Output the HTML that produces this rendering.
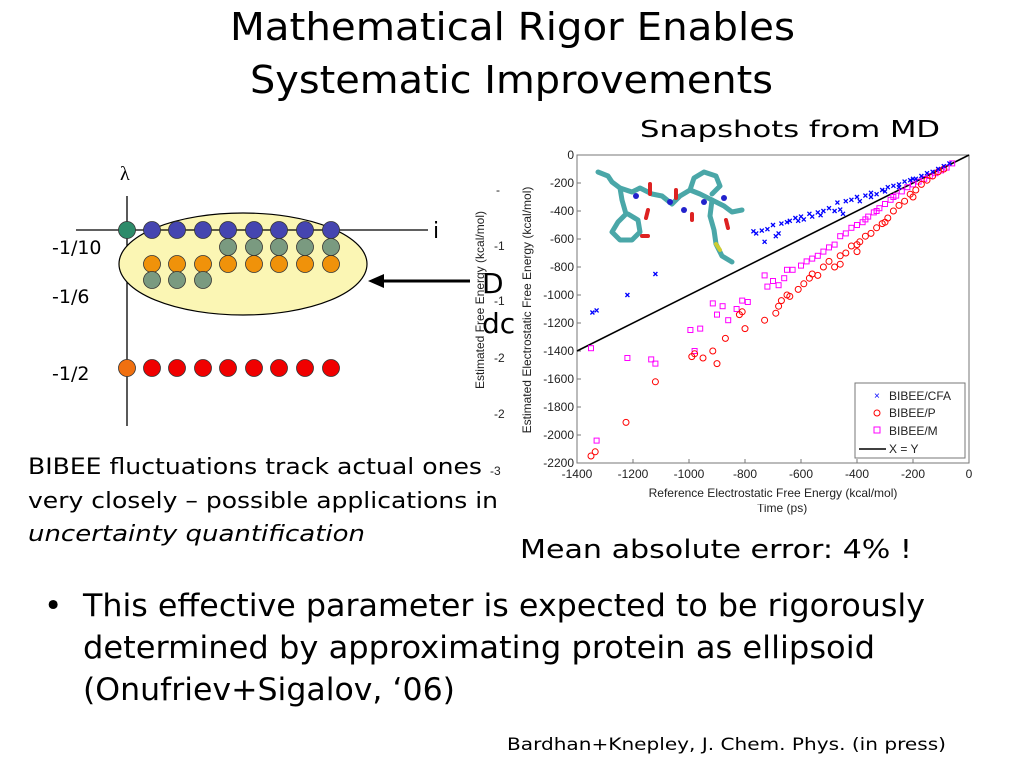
<!DOCTYPE html>
<html><head><meta charset="utf-8"><style>
html,body{margin:0;padding:0;background:#fff;}
svg{display:block;font-family:"Liberation Sans",sans-serif;}
.t{font-family:"DejaVu Sans","Liberation Sans",sans-serif;}
</style></head><body>
<svg id="s" width="1024" height="768" viewBox="0 0 1024 768">
<g class="t" font-size="38" fill="#000">
<text x="230" y="40" textLength="565" lengthAdjust="spacingAndGlyphs">Mathematical Rigor Enables</text>
<text x="250" y="93" textLength="523" lengthAdjust="spacingAndGlyphs">Systematic Improvements</text>
</g>
<text class="t" x="640" y="137" font-size="23" textLength="300" lengthAdjust="spacingAndGlyphs">Snapshots from MD</text>

<g id="diagram">
<text x="120" y="180" font-size="20" font-family="Liberation Serif,serif">λ</text>
<line x1="127" y1="196" x2="127" y2="426" stroke="#000" stroke-width="1.3"/>
<ellipse cx="243" cy="264" rx="124" ry="51" fill="#fbf6b4" stroke="#000" stroke-width="1.2"/>
<line x1="76" y1="230" x2="428" y2="230" stroke="#000" stroke-width="1.3"/>
<text x="433" y="238" font-size="22" class="t">i</text>
<g class="t" font-size="19">
<text x="52" y="254">-1/10</text><text x="52" y="303">-1/6</text><text x="52" y="380">-1/2</text>
</g>
<line x1="470" y1="281" x2="380" y2="281" stroke="#000" stroke-width="3"/>
<polygon points="368,281 384,274 384,288" fill="#000"/>
</g>

<g>
<text transform="translate(484,300) rotate(-90)" font-size="12" text-anchor="middle" fill="#222">Estimated Free Energy (kcal/mol)</text>
<g font-size="12" fill="#222"><text x="496" y="194">-</text><text x="494" y="250">-1</text><text x="494" y="305">-1</text><text x="494" y="362">-2</text><text x="494" y="418">-2</text><text x="490" y="475">-3</text></g>
<text class="t" x="482" y="293" font-size="28">D</text>
<text class="t" x="482" y="333" font-size="28">dc</text>
<text x="757" y="512" font-size="12" fill="#222">Time (ps)</text>
</g>

<g id="chart">
<rect x="520" y="148" width="456" height="356" fill="#fff"/>
<rect x="577" y="155" width="392" height="308" fill="#fff" stroke="#777" stroke-width="1"/>
<text transform="translate(531,310) rotate(-90)" font-size="12" text-anchor="middle" fill="#222">Estimated Electrostatic Free Energy (kcal/mol)</text>
<text x="773" y="497" font-size="12" text-anchor="middle" fill="#222">Reference Electrostatic Free Energy (kcal/mol)</text>
<g id="xt"></g><g id="yt"></g>
<g id="mol" fill="none" stroke-linecap="round" stroke-linejoin="round">
<polyline points="598,172 608,176 612,182 620,188 632,192 640,188 652,194 662,196 672,204 680,196 690,190 700,194 712,200 724,206 732,212 742,210" stroke="#4aa7a8" stroke-width="5"/>
<polyline points="620,188 622,200 626,214 618,222 612,232 620,240 632,240 640,232 638,220 628,214" stroke="#4aa7a8" stroke-width="5"/>
<polyline points="690,190 694,178 704,172 716,176 720,186 712,194" stroke="#4aa7a8" stroke-width="5"/>
<polyline points="712,200 710,216 714,230 716,244 722,256 732,262" stroke="#4aa7a8" stroke-width="5"/>
<line x1="650" y1="184" x2="650" y2="194" stroke="#d22" stroke-width="4"/>
<line x1="676" y1="190" x2="676" y2="198" stroke="#d22" stroke-width="4"/>
<line x1="648" y1="210" x2="646" y2="218" stroke="#d22" stroke-width="4"/>
<line x1="692" y1="214" x2="692" y2="220" stroke="#d22" stroke-width="4"/>
<line x1="726" y1="220" x2="728" y2="228" stroke="#d22" stroke-width="4"/>
<line x1="642" y1="236" x2="648" y2="236" stroke="#d22" stroke-width="4"/>
<circle cx="636" cy="196" r="3" fill="#22c" stroke="none"/><circle cx="670" cy="202" r="3" fill="#22c" stroke="none"/><circle cx="684" cy="210" r="3" fill="#22c" stroke="none"/><circle cx="704" cy="202" r="3" fill="#22c" stroke="none"/><circle cx="724" cy="198" r="3" fill="#22c" stroke="none"/>
<line x1="716" y1="244" x2="720" y2="250" stroke="#cc3" stroke-width="4"/>
</g>
<g id="marks"></g>
<g>
<rect x="855" y="383" width="110" height="75" fill="#fff" stroke="#777" stroke-width="1"/>
<g font-size="12" fill="#222">
<text x="874" y="399" fill="#00f" font-size="10">×</text><text x="889" y="400">BIBEE/CFA</text>
<circle cx="877" cy="413" r="3" fill="none" stroke="#f00"/><text x="889" y="417">BIBEE/P</text>
<rect x="874" y="427" width="6" height="6" fill="none" stroke="#f0f"/><text x="889" y="435">BIBEE/M</text>
<line x1="859" y1="449" x2="886" y2="449" stroke="#000" stroke-width="1.5"/><text x="889" y="453">X = Y</text>
</g></g>
</g>

<g class="t" fill="#000" font-size="22">
<text x="28" y="474" textLength="454" lengthAdjust="spacingAndGlyphs">BIBEE fluctuations track actual ones</text>
<text x="28" y="508" textLength="470" lengthAdjust="spacingAndGlyphs">very closely – possible applications in</text>
<text x="28" y="541" font-style="italic" textLength="337" lengthAdjust="spacingAndGlyphs">uncertainty quantification</text>
</g>
<text class="t" x="520" y="558" font-size="26" textLength="392" lengthAdjust="spacingAndGlyphs">Mean absolute error: 4% !</text>
<g class="t" font-size="31">
<text x="44" y="616">•</text>
<text x="83" y="616" textLength="842" lengthAdjust="spacingAndGlyphs">This effective parameter is expected to be rigorously</text>
<text x="83" y="658" textLength="792" lengthAdjust="spacingAndGlyphs">determined by approximating protein as ellipsoid</text>
<text x="83" y="700" textLength="372" lengthAdjust="spacingAndGlyphs">(Onufriev+Sigalov, ‘06)</text>
</g>
<text class="t" x="507" y="750" font-size="17" textLength="439" lengthAdjust="spacingAndGlyphs">Bardhan+Knepley, J. Chem. Phys. (in press)</text>
</svg>
<script>
const xTicks=[-1400,-1200,-1000,-800,-600,-400,-200,0];
const yTicks=[0,-200,-400,-600,-800,-1000,-1200,-1400,-1600,-1800,-2000,-2200];
const cfaX=[-1345,-1330,-1220,-1120,-770,-760,-740,-730,-720,-700,-690,-680,-670,-650,-640,-620,-600,-590,-570,-560,-540,-530,-520,-500,-480,-470,-460,-450,-440,-420,-400,-390,-370,-350,-350,-330,-310,-300,-290,-270,-250,-250,-230,-210,-200,-190,-170,-150,-130,-110,-90,-70,-610];
const cfaY=[-1125,-1110,-1000,-850,-545,-560,-540,-620,-530,-500,-580,-560,-490,-480,-470,-450,-440,-460,-420,-440,-410,-430,-400,-380,-400,-340,-390,-420,-330,-320,-300,-330,-290,-270,-300,-280,-250,-260,-230,-220,-210,-230,-190,-180,-170,-170,-150,-130,-120,-100,-80,-60,-470];
const pX=[-1350,-1335,-1225,-1120,-990,-980,-950,-915,-900,-870,-820,-800,-810,-730,-680,-690,-670,-650,-640,-610,-590,-570,-560,-540,-520,-500,-480,-460,-460,-440,-420,-400,-390,-370,-350,-330,-310,-290,-270,-250,-230,-210,-190,-170,-150,-130,-110,-90,-400,-300,-200];
const pY=[-2150,-2120,-1910,-1620,-1440,-1420,-1450,-1400,-1490,-1310,-1140,-1240,-1120,-1180,-1080,-1130,-1040,-1000,-1010,-960,-920,-880,-850,-860,-800,-760,-800,-720,-780,-700,-650,-690,-620,-580,-560,-520,-490,-450,-400,-360,-330,-280,-250,-210,-180,-150,-120,-100,-640,-480,-300];
const mX=[-1350,-1330,-1220,-1135,-1120,-980,-995,-960,-915,-900,-880,-860,-810,-830,-790,-730,-720,-700,-680,-660,-650,-630,-600,-580,-560,-540,-520,-500,-480,-460,-440,-420,-400,-380,-360,-340,-320,-300,-280,-260,-240,-220,-200,-180,-160,-140,-120,-100,-80,-60,-370,-330,-270];
const mY=[-1380,-2040,-1450,-1460,-1490,-1400,-1250,-1240,-1060,-1140,-1080,-1180,-1040,-1100,-1050,-860,-940,-900,-930,-880,-820,-820,-790,-760,-740,-720,-690,-660,-640,-580,-560,-520,-500,-480,-440,-410,-380,-350,-320,-290,-260,-230,-210,-190,-170,-150,-130,-110,-90,-60,-460,-400,-300];
const NS='http://www.w3.org/2000/svg';
const X0=577,X1=969,Y0=155,Y1=463;
function sx(v){return X0+(v+1400)/1400*(X1-X0);}
function sy(v){return Y0+(-v)/2200*(Y1-Y0);}
function mk(tag,attrs,parent){const e=document.createElementNS(NS,tag);for(const k in attrs)e.setAttribute(k,attrs[k]);parent.appendChild(e);return e;}
const xt=document.getElementById('xt'),yt=document.getElementById('yt'),marks=document.getElementById('marks');
xTicks.forEach(v=>{
  const t=mk('text',{x:sx(v),y:Y1+15,'font-size':12,'text-anchor':'middle',fill:'#222'},xt);
  t.textContent=v;
  
  
  mk('line',{x1:sx(v),x2:sx(v),y1:Y1,y2:Y1-4,stroke:'#777'},xt);
});
yTicks.forEach(v=>{
  const t=mk('text',{x:X0-3,y:sy(v)+4,'font-size':12,'text-anchor':'end',fill:'#222'},yt);
  t.textContent=v;
  
  
  mk('line',{x1:X0,x2:X0+4,y1:sy(v),y2:sy(v),stroke:'#777'},yt);
});
const ln=mk('line',{x1:sx(-1400),y1:sy(-1400),x2:sx(0),y2:sy(0),stroke:'#000','stroke-width':1.6},marks);


mX.forEach((v,i)=>{
  const r=mk('rect',{x:sx(v)-2.5,y:sy(mY[i])-2.5,width:5,height:5,fill:'none',stroke:'#f0f','stroke-width':1},marks);
  
  
});
pX.forEach((v,i)=>{
  const c=mk('circle',{cx:sx(v),cy:sy(pY[i]),r:3,fill:'none',stroke:'#f00','stroke-width':1},marks);
  
  
});
cfaX.forEach((v,i)=>{
  const x=sx(v),y=sy(cfaY[i]);
  const p=mk('path',{d:`M${x-2},${y-2}L${x+2},${y+2}M${x-2},${y+2}L${x+2},${y-2}`,stroke:'#00f','stroke-width':1.3},marks);
  
  
});
const dg=document.getElementById('diagram');
const colX=[127,152,177,203,228,254,279,305,331];
function dot(x,y,fill,name){const c=mk('circle',{cx:x,cy:y,r:8.5,fill:fill,stroke:'#333','stroke-width':0.8},dg);

}
dot(colX[0],230,'#2e8b6a','green-dot');
colX.slice(1).forEach(x=>dot(x,230,'#4545b0','blue-dot'));
colX.slice(4).forEach(x=>dot(x,247,'#7a9a80','gray-dot'));
colX.slice(1).forEach(x=>dot(x,264,'#f0920a','orange-dot'));
colX.slice(1,4).forEach(x=>dot(x,280,'#7a9a80','gray-dot'));
dot(colX[0],368,'#f07010','orange-dot');
colX.slice(1).forEach(x=>dot(x,368,'#f00000','red-dot'));
</script>
</body></html>
